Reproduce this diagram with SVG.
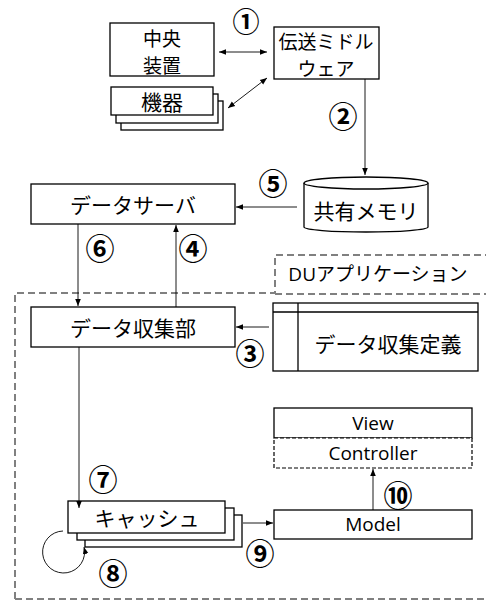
<svg xmlns="http://www.w3.org/2000/svg" width="486" height="600" viewBox="0 0 486 600">
  <style>
    .box { fill: #fff; stroke: #000; stroke-width: 1.3; }
    .dash { fill: none; stroke: #808080; stroke-width: 2; stroke-dasharray: 7 4; }
    .jp { font-family: "Noto Sans CJK JP", "Noto Sans", sans-serif; font-size: 21px; fill: #000; text-anchor: middle; dominant-baseline: central; }
    .jp2 { font-size: 19px; }
    .lat { font-family: "Open Sans", "Noto Sans CJK JP", sans-serif; font-size: 19px; fill: #000; text-anchor: middle; dominant-baseline: central; }
    .num { font-family: "Noto Sans CJK JP", sans-serif; font-size: 29px; font-weight: bold; fill: #000; text-anchor: middle; dominant-baseline: central; }
    .edge { fill: none; stroke: #000; stroke-width: 0.9; }
  </style>
  <defs>
    <marker id="ah" viewBox="0 0 10 10" refX="10" refY="5" markerWidth="7" markerHeight="7" orient="auto-start-reverse" markerUnits="userSpaceOnUse">
      <path d="M0,1 L10,5 L0,9 z" fill="#000"/>
    </marker>
  </defs>

  <rect width="486" height="600" fill="#fff"/>

  <!-- application boundary -->
  <g id="du-app">
    <path class="dash" d="M15,599 L15,293 L275,293 L275,255 L490,255"/>
    <path class="dash" d="M275,294 L490,294"/>
    <path class="dash" d="M15,599 L490,599"/>
    <text class="lat" x="378" y="274">DUアプリケーション</text>
  </g>

  <g id="central">
    <rect class="box" x="110" y="23" width="104" height="53"/>
    <text class="jp jp2" x="162" y="37">中央</text>
    <text class="jp jp2" x="162" y="64">装置</text>
  </g>

  <g id="middleware">
    <rect class="box" x="274" y="27" width="105" height="52"/>
    <text class="jp jp2" x="326" y="40">伝送ミドル</text>
    <text class="jp jp2" x="326" y="67">ウェア</text>
  </g>

  <g id="devices">
    <rect class="box" x="121" y="101" width="102" height="29"/>
    <rect class="box" x="116" y="94" width="102" height="29"/>
    <rect class="box" x="111" y="87" width="102" height="28"/>
    <text class="jp" x="162" y="101">機器</text>
  </g>

  <g id="shared-memory">
    <path class="box" d="M304,183 A62,6 0 0 1 428,183 L428,227 A62,5 0 0 1 304,227 Z"/>
    <path class="edge" style="stroke-width:1.3" d="M304,183 A62,6 0 0 0 428,183"/>
    <text class="jp" x="366" y="210">共有メモリ</text>
  </g>

  <g id="data-server">
    <rect class="box" x="31" y="184" width="204" height="40"/>
    <text class="jp" x="133" y="204">データサーバ</text>
  </g>

  <g id="collector">
    <rect class="box" x="31" y="307" width="204" height="40"/>
    <text class="jp" x="133" y="327">データ収集部</text>
  </g>

  <g id="collect-def">
    <rect class="box" x="273" y="303" width="205" height="68"/>
    <line class="edge" style="stroke-width:1.3" x1="273" y1="312" x2="478" y2="312"/>
    <line class="edge" style="stroke-width:1.3" x1="298" y1="303" x2="298" y2="371"/>
    <text class="jp" x="388" y="343">データ収集定義</text>
  </g>

  <g id="view">
    <rect class="box" x="274" y="408" width="198" height="30"/>
    <text class="lat" x="373" y="423">View</text>
  </g>

  <g id="controller">
    <rect x="274" y="438" width="198" height="30" fill="#fff" stroke="#000" stroke-width="1.2" stroke-dasharray="4 2"/>
    <text class="lat" x="373" y="453">Controller</text>
  </g>

  <g id="model">
    <rect class="box" x="274" y="510" width="198" height="29"/>
    <text class="lat" x="373" y="524">Model</text>
  </g>

  <g id="cache">
    <rect class="box" x="85" y="515" width="157" height="32"/>
    <rect class="box" x="77" y="508" width="157" height="32"/>
    <rect class="box" x="68" y="501" width="157" height="32"/>
    <text class="jp" x="147" y="517">キャッシュ</text>
  </g>

  <g id="connectors">
    <line class="edge" x1="219" y1="52" x2="267" y2="52" marker-start="url(#ah)" marker-end="url(#ah)"/>
    <line class="edge" x1="228" y1="108" x2="267" y2="78" marker-start="url(#ah)" marker-end="url(#ah)"/>
    <line class="edge" x1="365" y1="79" x2="365" y2="175" marker-end="url(#ah)"/>
    <line class="edge" x1="297" y1="207" x2="236" y2="207" marker-end="url(#ah)"/>
    <line class="edge" x1="78" y1="224" x2="78" y2="306" marker-end="url(#ah)"/>
    <line class="edge" x1="176" y1="307" x2="176" y2="225" marker-end="url(#ah)"/>
    <line class="edge" x1="269" y1="327" x2="236" y2="327" marker-end="url(#ah)"/>
    <line class="edge" x1="79" y1="347" x2="79" y2="508" marker-end="url(#ah)"/>
    <line class="edge" x1="243" y1="523" x2="273" y2="523" marker-end="url(#ah)"/>
    <line class="edge" x1="373" y1="510" x2="373" y2="469" marker-end="url(#ah)"/>
    <path class="edge" d="M63,531 A21,21 0 1 0 84,547" marker-end="url(#ah)"/>
  </g>

  <g id="steps">
    <text class="num" x="246" y="20" style="font-size:27px">①</text>
    <text class="num" x="343" y="115">②</text>
    <text class="num" x="250" y="352">③</text>
    <text class="num" x="193" y="247">④</text>
    <text class="num" x="273" y="182">⑤</text>
    <text class="num" x="100" y="247">⑥</text>
    <text class="num" x="103" y="478">⑦</text>
    <text class="num" x="113" y="572">⑧</text>
    <text class="num" x="260" y="552">⑨</text>
    <text class="num" x="398" y="494">⑩</text>
  </g>
</svg>
